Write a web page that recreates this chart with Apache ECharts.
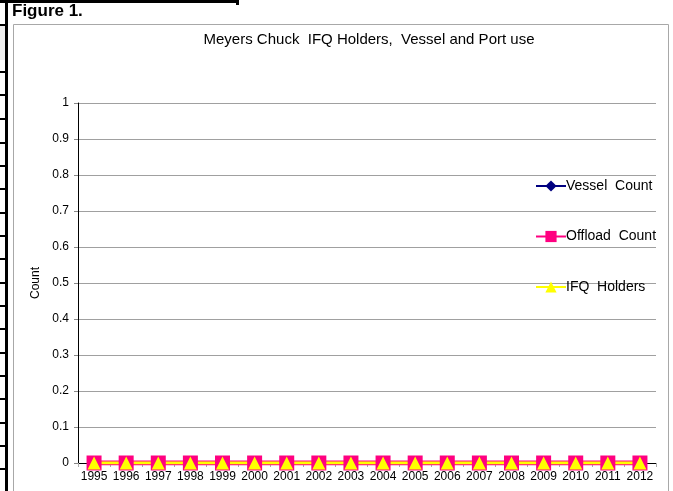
<!DOCTYPE html>
<html>
<head>
<meta charset="utf-8">
<script src="https://cdn.jsdelivr.net/npm/echarts@6/dist/echarts.min.js"></script>
<style>
html,body{margin:0;padding:0;background:#fff;}
#c{width:673px;height:491px;}
</style>
</head>
<body>
<div id="c"></div>
<script>
const years = ['1995','1996','1997','1998','1999','2000','2001','2002','2003','2004','2005','2006','2007','2008','2009','2010','2011','2012'];
const vesselCount = [0,0,0,0,0,0,0,0,0,0,0,0,0,0,0,0,0,0];
const offloadCount = [0,0,0,0,0,0,0,0,0,0,0,0,0,0,0,0,0,0];
const ifqHolders = [0,0,0,0,0,0,0,0,0,0,0,0,0,0,0,0,0,0];
const titleText = 'Meyers Chuck  IFQ Holders,  Vessel and Port use';
const figureLabel = 'Figure 1.';

const F = 'Arial, "Liberation Sans", Helvetica, sans-serif';
const chart = echarts.init(document.getElementById('c'), null, {renderer:'canvas'});

// decorative page elements (left border and ticks)
const leftTicks = [25, 72, 95, 119, 143, 166, 189, 213, 236, 259, 283, 306, 329, 353, 376, 399, 423, 446, 469];
const graphics = [
  {type:'rect', shape:{x:0,y:26,width:5,height:34}, style:{fill:'#eeeeee'}, silent:true},
  {type:'rect', shape:{x:0,y:0,width:238,height:3}, style:{fill:'#000'}, silent:true},
  {type:'rect', shape:{x:236,y:0,width:3,height:5}, style:{fill:'#000'}, silent:true},
  {type:'rect', shape:{x:5,y:0,width:3,height:491}, style:{fill:'#000'}, silent:true},
  {type:'rect', shape:{x:13.5,y:24.5,width:655,height:480}, style:{fill:null, stroke:'#a8a8a8', lineWidth:1}, silent:true},
  {type:'text', x:12, y:3, style:{text:figureLabel, font:'bold 17px '+F, fill:'#000'}, silent:true}
];
leftTicks.forEach(function(y){
  graphics.push({type:'rect', shape:{x:0,y:y-1,width:6,height:2}, style:{fill:'#000'}, silent:true});
});

chart.setOption({
  animation:false,
  backgroundColor:'#fff',
  title:{
    text:titleText, left:364, top:27, textAlign:'center',
    textStyle:{fontFamily:F, fontSize:15, fontWeight:'normal', color:'#000'}
  },
  graphic:graphics,
  grid:{left:78, right:17, top:103, bottom:28, containLabel:false},
  legend:{
    orient:'vertical', left:530, top:174, itemGap:36.5, itemWidth:30, itemHeight:14,
    textStyle:{fontFamily:F, fontSize:14, color:'#000', padding:[0,0,0,-5]},
    data:['Vessel  Count','Offload  Count','IFQ  Holders']
  },
  xAxis:{
    type:'category', data:years, boundaryGap:true,
    axisLine:{lineStyle:{color:'#000', width:1}},
    axisTick:{show:true, alignWithLabel:false, length:4, lineStyle:{color:'#aaa'}},
    axisLabel:{fontFamily:F, fontSize:12, color:'#000', margin:8, interval:0}
  },
  yAxis:{
    type:'value', min:0, max:1, interval:0.1,
    name:'Count', nameLocation:'middle', nameGap:32, nameRotate:90,
    nameTextStyle:{fontFamily:F, fontSize:12, color:'#000'},
    axisLine:{show:true, lineStyle:{color:'#000', width:1}},
    axisTick:{show:true, length:4, lineStyle:{color:'#888'}},
    axisLabel:{fontFamily:F, fontSize:12, color:'#000', margin:9,
      formatter:function(v){return String(Math.round(v*10)/10);}},
    splitLine:{show:true, lineStyle:{color:'#a0a0a0', width:1}}
  },
  series:[
    {name:'Vessel  Count', type:'line', data:vesselCount, symbol:'diamond', symbolSize:8,
      lineStyle:{color:'#000080', width:2}, itemStyle:{color:'#000080'}},
    {name:'Offload  Count', type:'line', data:offloadCount, symbol:'rect', symbolSize:15,
      lineStyle:{color:'#ff0080', width:5}, itemStyle:{color:'#ff0080'}},
    {name:'IFQ  Holders', type:'line', data:ifqHolders, symbol:'triangle', symbolSize:13,
      lineStyle:{color:'#ffff00', width:3}, itemStyle:{color:'#ffff00'}}
  ]
});
</script>
</body>
</html>
